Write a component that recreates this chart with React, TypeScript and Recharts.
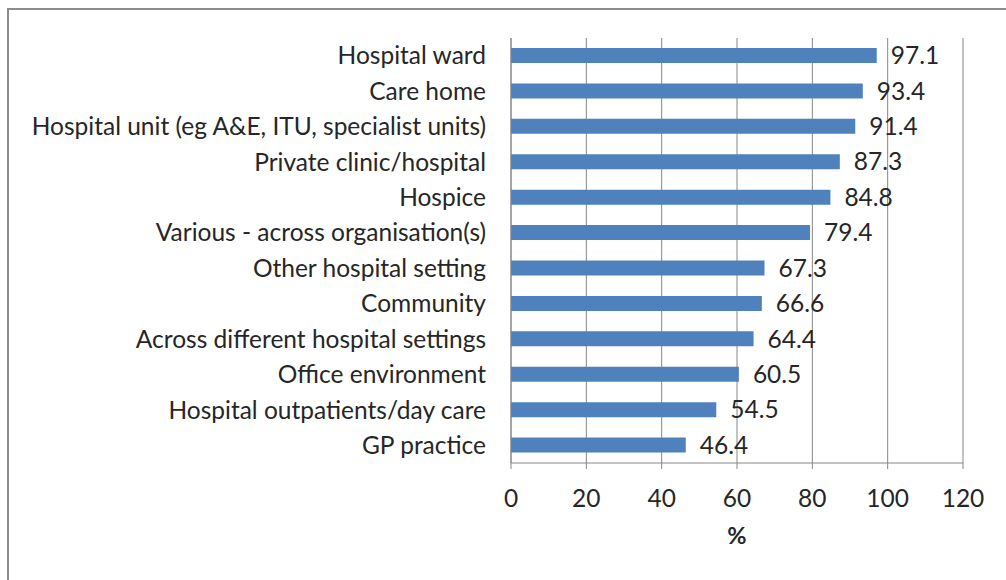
import { Bar, BarChart, CartesianGrid, Customized, LabelList, XAxis, YAxis } from "recharts";

const categories = [
  "Hospital ward",
  "Care home",
  "Hospital unit (eg A&E, ITU, specialist units)",
  "Private clinic/hospital",
  "Hospice",
  "Various - across organisation(s)",
  "Other hospital setting",
  "Community",
  "Across different hospital settings",
  "Office environment",
  "Hospital outpatients/day care",
  "GP practice",
];
const percentages = [97.1, 93.4, 91.4, 87.3, 84.8, 79.4, 67.3, 66.6, 64.4, 60.5, 54.5, 46.4];
const xTicks = [0, 20, 40, 60, 80, 100, 120];
const rowEdges = [0, 1, 2, 3, 4, 5, 6, 7, 8, 9, 10, 11, 12];

const data = categories.map((name, i) => ({ name, value: percentages[i] }));

const FONT = "Lato, 'Open Sans', sans-serif";
const SIZE = 24.5;
const TEXT = "#262626";
const LINE = "#868686";

// outer chart-area frame (left and top edges only are visible in the picture)
const Frame = () => (
  <path d="M8 590 L8 9 L1010 9" fill="none" stroke="#8c8c8c" strokeWidth={2} />
);

export default function App() {
  return (
    <div style={{ position: "absolute", left: 0, top: 0, width: 1006, height: 580, background: "#fff" }}>
      <BarChart
        width={1006}
        height={580}
        data={data}
        layout="vertical"
        margin={{ top: 38, right: 43, bottom: 0, left: 0 }}
        barSize={15}
        style={{ fontFamily: FONT }}
      >
        <CartesianGrid horizontal={false} stroke={LINE} strokeWidth={1} yAxisId={1} />
        <XAxis
          type="number"
          domain={[0, 120]}
          ticks={xTicks}
          interval={0}
          height={117}
          axisLine={{ stroke: LINE }}
          tickLine={{ stroke: LINE }}
          tickSize={6}
          tickMargin={21}
          tick={{ fill: TEXT, fontSize: SIZE, fontFamily: FONT }}
          label={{
            value: "%",
            position: "insideTop",
            offset: 64,
            fill: TEXT,
            fontSize: SIZE - 1,
            fontWeight: 700,
            fontFamily: FONT,
          }}
        />
        <YAxis
          yAxisId={0}
          type="number"
          orientation="left"
          domain={[0, 12]}
          ticks={rowEdges}
          reversed
          width={6}
          tick={false}
          tickSize={6}
          axisLine={{ stroke: LINE }}
          tickLine={{ stroke: LINE }}
        />
        <YAxis
          yAxisId={1}
          type="category"
          dataKey="name"
          width={505}
          interval={0}
          axisLine={false}
          tickLine={false}
          tickMargin={13}
          tick={{ fill: TEXT, fontSize: SIZE, fontFamily: FONT }}
        />
        <Bar yAxisId={1} dataKey="value" fill="#4F81BD" isAnimationActive={false}>
          <LabelList
            dataKey="value"
            position="right"
            offset={14}
            fill={TEXT}
            fontSize={SIZE}
            fontFamily={FONT}
          />
        </Bar>
        <Customized component={Frame} />
      </BarChart>
    </div>
  );
}
